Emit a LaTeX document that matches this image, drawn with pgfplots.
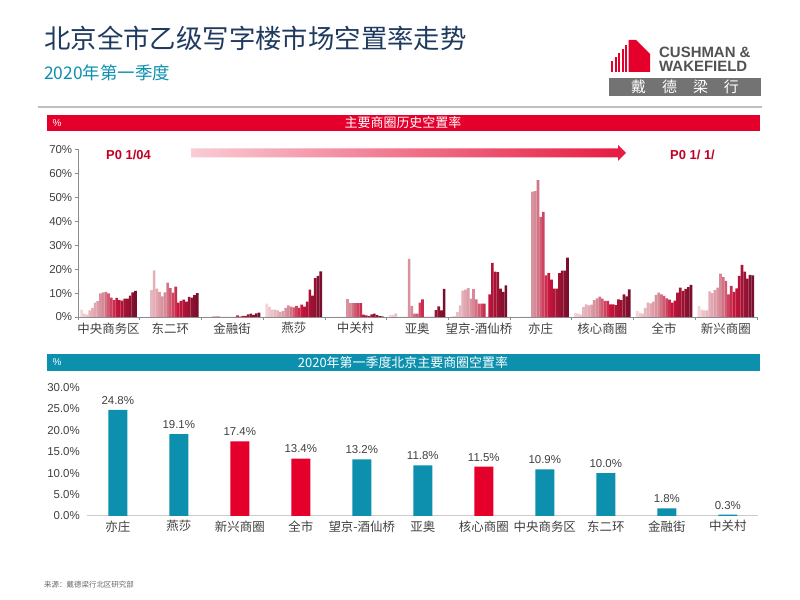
\documentclass[border=0pt]{standalone}
\usepackage{fontspec}
\setmainfont{Liberation Sans}
\newfontfamily\cjk{Noto Sans CJK SC}
\usepackage{pgfplots}
\usepackage{pgfplotstable}
\pgfplotsset{compat=1.18}

\definecolor{titleblue}{HTML}{1F3A5F}
\definecolor{cwteal}{HTML}{0C90AE}
\definecolor{cwred}{HTML}{E4002B}
\definecolor{txtgray}{HTML}{404040}
\definecolor{light}{HTML}{F2D3D8}
\definecolor{pink}{HTML}{D68A97}
\definecolor{redc}{HTML}{C8163C}
\definecolor{dark}{HTML}{7A0F2D}
\colorlet{c0}{light}
\colorlet{c1}{pink!12!light}
\colorlet{c2}{pink!25!light}
\colorlet{c3}{pink!38!light}
\colorlet{c4}{pink!50!light}
\colorlet{c5}{pink!62!light}
\colorlet{c6}{pink!75!light}
\colorlet{c7}{pink!88!light}
\colorlet{c8}{pink}
\colorlet{c9}{redc!20!pink}
\colorlet{c10}{redc!40!pink}
\colorlet{c11}{redc!60!pink}
\colorlet{c12}{redc!80!pink}
\colorlet{c13}{redc}
\colorlet{c14}{dark!14!redc}
\colorlet{c15}{dark!29!redc}
\colorlet{c16}{dark!43!redc}
\colorlet{c17}{dark!57!redc}
\colorlet{c18}{dark!71!redc}
\colorlet{c19}{dark!86!redc}
\colorlet{c20}{dark}

% rows: groups; columns: quarters
\pgfplotstableread{
g q0 q1 q2 q3 q4 q5 q6 q7 q8 q9 q10 q11 q12 q13 q14 q15 q16 q17 q18 q19 q20
1 3.1 1.4 1.0 2.8 3.8 6.0 6.6 9.9 10.3 10.5 9.9 8.1 7.0 8.0 7.1 6.8 7.7 7.7 8.9 10.3 10.9
2 0 0 0 11.2 19.5 11.9 10.5 8.6 10.3 14.4 12.1 10.2 12.7 6.0 6.7 7.3 6.4 8.4 8.1 9.1 10.0
3 0 0 0 0.4 0.4 0.4 0.1 0.1 0.1 0.1 0.1 0.1 0.7 0.2 0.5 0.5 1.1 1.4 0.9 1.5 1.8
4 5.6 4.2 3.1 3.1 2.8 2.1 2.4 3.8 4.9 4.3 4.0 4.6 3.8 5.2 4.3 6.4 11.4 8.9 16.2 17.2 19.1
5 0 0 0 0 0 0 0 7.5 5.8 5.8 5.8 5.8 5.8 1.0 0.7 0.4 1.1 1.4 0.8 0.4 0.3
6 0.8 0.9 1.5 0 0 0 0 24.3 4.6 1.4 1.4 6.0 7.4 0 0 0 0 2.9 4.4 2.8 11.8
7 0.3 0.4 2.0 4.9 11.0 11.4 12.1 7.7 11.6 7.4 5.6 5.6 5.6 0 9.5 22.6 19.0 18.7 11.9 10.5 13.2
8 0 0 0 0 0 0 0 52.4 52.6 57.2 41.8 43.9 17.4 18.3 15.6 11.9 11.9 18.3 19.4 19.4 24.8
9 1.7 1.4 1.0 4.2 5.3 4.9 5.2 7.0 7.8 8.5 7.7 6.7 6.7 5.3 5.3 5.0 7.4 7.1 9.5 8.6 11.5
10 2.4 1.7 1.4 3.8 6.0 5.7 6.4 9.2 10.2 9.5 8.8 7.8 7.3 6.0 6.8 10.2 12.3 10.9 11.8 12.5 13.4
11 4.5 3.1 2.8 2.8 10.7 10.0 11.2 12.3 18.1 16.7 15.1 9.5 13.0 10.5 12.0 17.2 21.8 19.0 16.0 17.6 17.4
}\hist

\pgfplotstableread{
x y
0.5 24.8
1.5 19.1
4.5 13.2
5.5 11.8
7.5 10.9
8.5 10.0
9.5 1.8
10.5 0.3
}\tealbars
\pgfplotstableread{
x y
2.5 17.4
3.5 13.4
6.5 11.5
}\redbars

\begin{document}
\begin{tikzpicture}
\begin{scope}[x=1bp,y=1bp]
\path (0,0) rectangle (800,600);
% ---------- header ----------
\node[anchor=west, inner sep=0pt, font=\cjk\fontsize{26.5}{30}\selectfont, text=titleblue] at (44,562) {北京全市乙级写字楼市场空置率走势};
\node[anchor=west, inner sep=0pt, font=\cjk\fontsize{17.5}{20}\selectfont, text=cwteal] at (44,527) {2020年第一季度};
% logo
\foreach \xx/\tt in {611/539,614.5/543,618/547,621.5/551,625/555}{
  \fill[cwred] (\xx,528) rectangle ++(2,\tt-528);
}
\fill[cwred] (628.5,528) -- (628.5,560) -- (636,560) -- (650,546) -- (650,528) -- cycle;
\node[anchor=west, inner sep=0pt, font=\bfseries\fontsize{15}{16}\selectfont, text=black!68] at (659,547.5) {CUSHMAN \&};
\node[anchor=west, inner sep=0pt, font=\bfseries\fontsize{15}{16}\selectfont, text=black!68] at (659,533.5) {WAKEFIELD};
\fill[black!55] (609,504) rectangle (761,522);
\node[inner sep=0pt, font=\cjk\fontsize{15}{17}\selectfont, text=white] at (685,513) {戴\hspace{16bp}德\hspace{16bp}梁\hspace{16bp}行};
\draw[black!25, line width=2bp] (38,493) -- (762,493);
% ---------- banners ----------
\fill[cwred] (47,469) rectangle (760,485);
\node[font=\fontsize{10}{12}\selectfont, text=white, inner sep=0pt] at (57,477) {\%};
\node[font=\cjk\fontsize{13}{15}\selectfont, text=white, inner sep=0pt] at (403,477) {主要商圈历史空置率};
\fill[cwteal] (47,229) rectangle (760,246);
\node[font=\fontsize{10}{12}\selectfont, text=white, inner sep=0pt] at (57,237.5) {\%};
\node[font=\cjk\fontsize{13}{15}\selectfont, text=white, inner sep=0pt] at (403,237.5) {2020年第一季度北京主要商圈空置率};
% arrow
\shade[left color=cwred!20, right color=cwred!90] (191,451.5) -- (618,451.5) -- (618,455) -- (626,447) -- (618,439) -- (618,442.5) -- (191,442.5) -- cycle;
\node[anchor=west, inner sep=0pt, font=\bfseries\fontsize{13}{15}\selectfont, text=cwred!85!black] at (106,445) {P0 1/04};
\node[anchor=west, inner sep=0pt, font=\bfseries\fontsize{13}{15}\selectfont, text=cwred!85!black] at (670,445) {P0 1/ 1/};
% source
\node[anchor=west, inner sep=0pt, font=\cjk\fontsize{7.5}{9}\selectfont, text=black!60] at (44,15) {来源：戴德梁行北区研究部};
\end{scope}

% ---------- top chart ----------
\begin{axis}[at={(77.7bp,283bp)}, anchor=south west, scale only axis,
  width=679bp, height=167.5bp,
  xmin=0, xmax=11, ymin=0, ymax=70,
  axis lines*=left,
  axis line style={draw=black!45},
  tick align=outside, major tick length=3bp,
  tick style={draw=black!45},
  ytick={0,10,...,70},
  yticklabel={\pgfmathprintnumber{\tick}\%},
  /pgf/number format/assume math mode=true,
  yticklabel style={font=\fontsize{11.5}{12}\selectfont, text=txtgray, xshift=1bp},
  xtick={0,1,...,11}, xticklabels={},
  extra x ticks={0.5,1.5,...,10.5},
  extra x tick labels={中央商务区,东二环,金融街,燕莎,中关村,亚奥,望京-酒仙桥,亦庄,核心商圈,全市,新兴商圈},
  extra x tick style={major tick length=0pt},
  xticklabel style={font=\cjk\fontsize{12.5}{14}\selectfont, text=txtgray, yshift=-2bp},
]
\pgfplotsinvokeforeach{0,...,20}{
  \addplot[ybar, bar width=0.0436, bar shift=0pt, fill=c#1, draw=none]
    table[x expr=\coordindex+0.5+(#1-10)*0.0436, y=q#1]{\hist};
}
\end{axis}

% ---------- bottom chart ----------
\begin{axis}[at={(87.3bp,84bp)}, anchor=south west, scale only axis,
  width=671bp, height=128.5bp,
  xmin=0, xmax=11, ymin=0, ymax=30,
  axis x line*=bottom, axis y line*=left,
  x axis line style={draw=black!20, line width=1bp},
  y axis line style={draw=none},
  tick style={draw=none},
  ytick={0,5,...,30},
  /pgf/number format/assume math mode=true,
  yticklabel={\pgfmathprintnumber[fixed,fixed zerofill,precision=1]{\tick}\%},
  yticklabel style={font=\fontsize{11.5}{12}\selectfont, text=txtgray, xshift=-4bp},
  xtick={0.5,1.5,...,10.5},
  xticklabels={亦庄,燕莎,新兴商圈,全市,望京-酒仙桥,亚奥,核心商圈,中央商务区,东二环,金融街,中关村},
  xticklabel style={font=\cjk\fontsize{12.5}{14}\selectfont, text=txtgray, yshift=-1bp},
  nodes near coords={\pgfmathprintnumber[fixed,fixed zerofill,precision=1]{\pgfplotspointmeta}\%},
  nodes near coords style={font=\fontsize{11.5}{12}\selectfont, text=txtgray, yshift=2bp},
]
\addplot[ybar, bar width=19bp, bar shift=0pt, fill=cwteal, draw=none] table[x=x,y=y]{\tealbars};
\addplot[ybar, bar width=19bp, bar shift=0pt, fill=cwred, draw=none] table[x=x,y=y]{\redbars};
\end{axis}
\end{tikzpicture}
\end{document}
